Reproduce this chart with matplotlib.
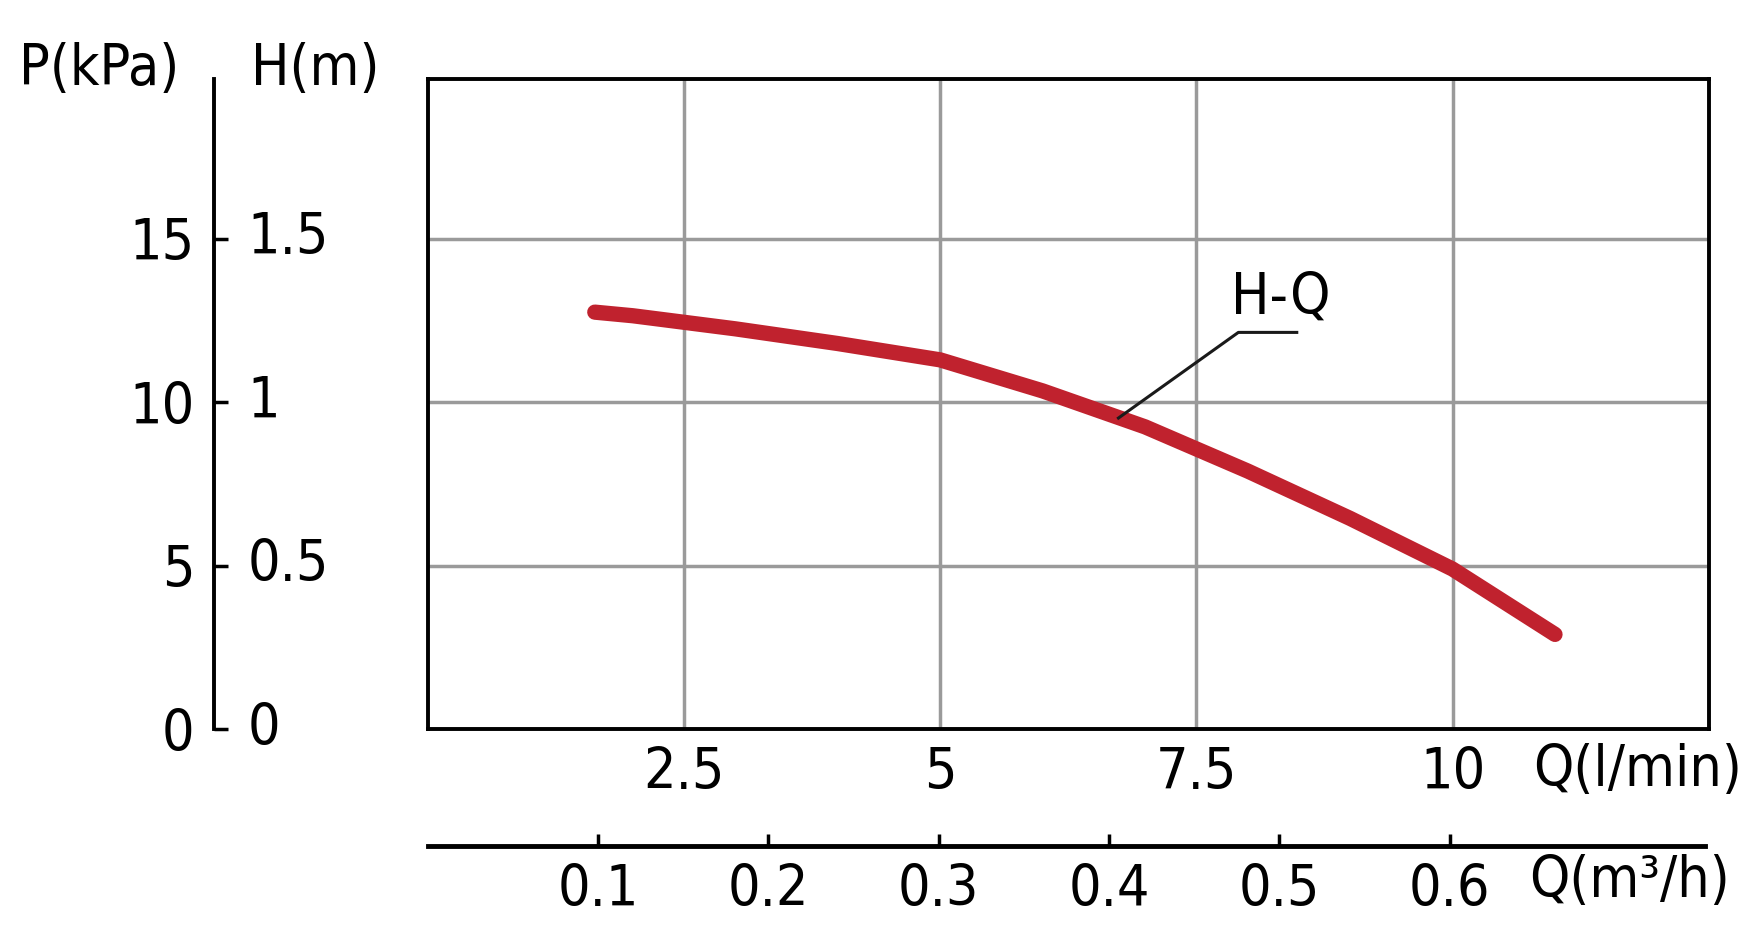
import numpy as np
import matplotlib
matplotlib.use("Agg")
from matplotlib import pyplot as plt

# H-Q curve
q_lpm = [1.63, 2.0, 2.5, 3.0, 4.0, 5.0, 6.0, 7.0, 8.0, 9.0, 10.0, 10.5, 11.0]
head_m = [1.276, 1.265, 1.245, 1.225, 1.18, 1.13, 1.035, 0.925, 0.79, 0.645, 0.49, 0.39, 0.29]
q_ticks = [2.5, 5, 7.5, 10]
h_ticks = [0, 0.5, 1, 1.5]
p_labels = ["0", "5", "10", "15"]
h_labels = ["0", "0.5", "1", "1.5"]
m3h_ticks = [0.1, 0.2, 0.3, 0.4, 0.5, 0.6]

plt.rcParams["font.family"] = ["DejaVu Sans"]
plt.rcParams["font.stretch"] = "condensed"
FS = 41
RED = "#c0222e"

fig = plt.figure(figsize=(17.56, 9.34), dpi=100)
W, H = 1560, 830
def fx(x): return x / W
def fy(y): return 1 - y / H

ax = fig.add_axes([fx(380), fy(648), fx(1518) - fx(380), fy(70) - fy(648)])
ax.set_xlim(0, 12.5)
ax.set_ylim(0, 1.99)
ax.set_xticks(q_ticks)
ax.set_xticklabels(["2.5", "5", "7.5", "10"], fontsize=FS)
ax.set_yticks(h_ticks)
ax.set_yticklabels([])
ax.tick_params(length=0, pad=12)
ax.grid(True, color="#9a9a9a", lw=2.5)
for s in ax.spines.values():
    s.set_linewidth(2.8)
ax.plot(q_lpm, head_m, color=RED, lw=11, solid_capstyle="round",
        solid_joinstyle="round", zorder=3)
ax.plot([6.74, 7.91, 8.48], [0.952, 1.214, 1.214], color="#1a1a1a", lw=2.2, zorder=4)
ax.text(8.32, 1.32, "H-Q", fontsize=FS, ha="center", va="center")
ax.text(fx(1455), fy(685), "Q(l/min)", transform=fig.transFigure, fontsize=FS,
        ha="center", va="center")

# left scale P / H
axl = fig.add_axes([fx(190), fy(648), 0.0001, fy(70) - fy(648)])
axl.set_ylim(0, 1.99)
axl.set_xticks([])
for k in ["top", "right", "bottom"]:
    axl.spines[k].set_visible(False)
axl.spines["left"].set_linewidth(2.8)
axl.set_yticks(h_ticks)
axl.set_yticklabels(p_labels, fontsize=FS)
axl.tick_params(axis="y", direction="in", length=10, width=2.5, pad=14)
for v, lab in zip(h_ticks, h_labels):
    axl.annotate(lab, (0, v), xytext=(24, 0), textcoords="offset points",
                 fontsize=FS, va="center", ha="left", xycoords=("axes fraction", "data"))
fig.text(fx(88), fy(62), "P(kPa)", fontsize=FS, ha="center", va="center")
fig.text(fx(280), fy(62), "H(m)", fontsize=FS, ha="center", va="center")

# bottom m3/h scale
axb = fig.add_axes([fx(380), fy(752), fx(1515) - fx(380), 0.0001])
axb.set_xlim(0, 12.5 * 0.06)
axb.set_yticks([])
for k in ["top", "right", "left"]:
    axb.spines[k].set_visible(False)
axb.spines["bottom"].set_linewidth(3.5)
axb.set_xticks(m3h_ticks)
axb.set_xticklabels([str(t) for t in m3h_ticks], fontsize=FS)
axb.tick_params(axis="x", direction="in", length=9, width=2.5, pad=12)
fig.text(fx(1448), fy(783), "Q(m³/h)", fontsize=FS, ha="center", va="center")

plt.savefig("out.png", dpi=100)
plt.close()
